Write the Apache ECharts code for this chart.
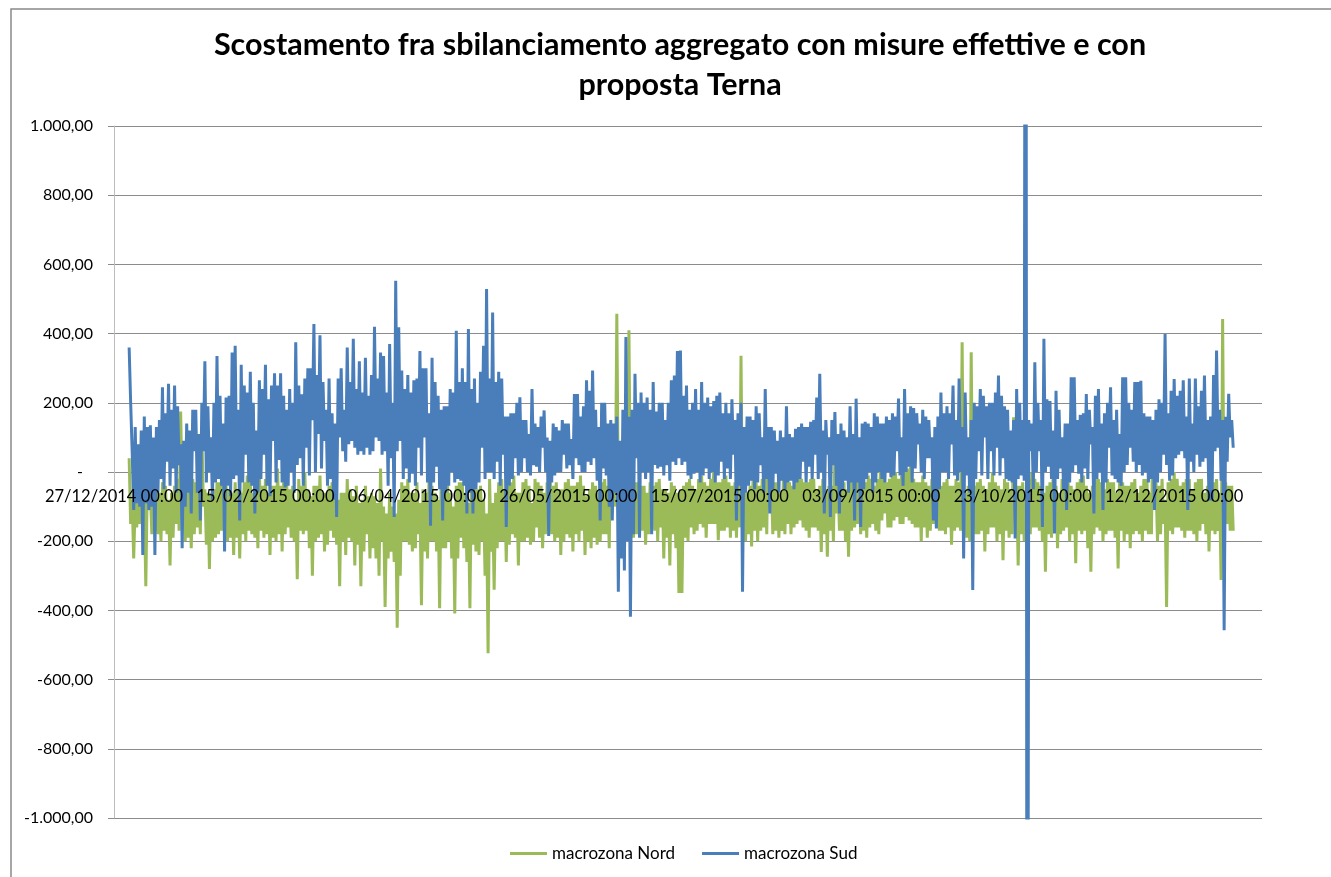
<!DOCTYPE html>
<html>
<head>
<meta charset="utf-8">
<title>Scostamento sbilanciamento aggregato</title>
<script src="https://cdn.jsdelivr.net/npm/echarts@6/dist/echarts.min.js"></script>
<style>
  html, body { margin: 0; padding: 0; background: #fff; }
  #chart { width: 1331px; height: 877px; }
</style>
</head>
<body>
<div id="chart"></div>
<script>
// Chart text
const titleLines = [
    'Scostamento fra sbilanciamento aggregato con misure effettive e con',
    'proposta Terna'
];
const seriesNames = ['macrozona Nord', 'macrozona Sud'];

// x axis: dates counted in days from the first label, one label every 50 days
const axisStartDate = [2014, 12, 27];
const firstReadingDate = [2015, 1, 1];
const axisDays = 379;
const labelStepDays = 50;

// y axis
const yMin = -1000, yMax = 1000, yStep = 200;

// Two readings per day (01/01/2015 .. 31/12/2015):
// *A is one extreme of the day, *B the other one.
const nordA = [
    40, -250, -90, -150, -40, -330, -110, -60, -170, -60,
    -200, -30, -180, -270, -60, -150, -20, 175, -200, -50,
    -220, -20, -160, -40, 120, -210, -280, -60, -190, -30,
    -170, -40, -200, -50, -240, -30, -250, -60, -200, -10,
    -180, -60, -220, 0, -190, -20, -240, -40, -200, 10,
    -230, -30, -160, -50, -200, -310, -20, -180, 0, -220,
    -300, -40, -190, -10, -230, -60, -170, -30, -210, -330,
    -60, -240, -20, -200, -270, -40, -330, -80, -180, -250,
    -60, -250, -300, 10, -390, -120, -60, -100, -450, -300,
    -30, -200, -20, -230, -60, -180, -385, -50, -250, -20,
    -200, -60, -394, -30, -220, 0, -250, -409, -40, -190,
    -30, -260, -394, -20, -230, -50, -200, -300, -524, -20,
    -340, -60, -200, -20, -260, -40, -180, -10, -270, -60,
    -200, -20, -210, -90, -160, -30, -220, -60, -170, 10,
    -200, -30, -240, -50, -180, -20, -230, -40, -200, -10,
    -240, -70, -220, -30, -210, -60, -180, -20, -220, 120,
    -100, 457, -60, -250, -60, 410, -190, -30, -180, -40,
    -210, -60, -160, -40, -200, -20, -250, -50, -270, -30,
    -220, -350,
    -350, -40, -200, -20, -180, -50, -150, -10, -190, -40,
    -150, 10, -197, -30, -170, -10, -190, -40, -190, -20,
    336, -200, -60, -215, -10, -200, -40, -160, -20, 125,
    -180, -30, -190, -60, -180, 0, -180, -40, -150, 10,
    -160, -30, -190, -20, -160, -50, -231, -20, -245, -40,
    -200, 53, -170, -30, -200, -245, -20, -160, 0, -180,
    -40, -190, -10, -150, -40, -180, 0, -120, -30, -160,
    10, -130, -20, -150, 30, -140, 20, -160, -30, -200,
    -10, -190, -40, -150, 10, -170, -40, -180, -20, -210,
    -40, -160, -30,
    375, -60, -200, 346, -40, -180, -20, -230, -50, -160,
    0, -200, -40, -255, -20, -190, -50, 158, -270, -40,
    -200, -60, -180, 0, -160, -30, -200, -288, -40, -190,
    -20, -220, -60, -170, 10, -200, -40, -264, -30, -180,
    -10, -220, -288, -40, -160, -20, -200, -50, -170, -30,
    -190, -279, 0, -200, -40, -220, -30, -170, -60, -200,
    -20, -180, -60, 149, -200, -40, -150, -390, -30, -180,
    0, -160, -40, -190, -20, -170, -50, -200, -20, -150,
    -60, -230, -40, -180, -20, -312, 442, -150, -40, -170
];
const nordB = [
    -150, -80, -160, -50, -170, -90, -30, -180, -50, -180,
    -60, -170, -40, -80, -190, -40, -170, -70, -40, -190,
    -40, -180, -30, -180, -100, -50, -60, -200, -50, -180,
    -30, -180, -40, -190, -60, -190, -50, -180, -30, -170,
    -30, -190, -50, -170, -40, -180, -60, -190, -40, -180,
    -40, -180, -30, -190, -40, -80, -170, -40, -170, -50,
    -70, -200, -40, -180, -60, -210, -40, -190, -50, -80,
    -200, -60, -190, -50, -70, -210, -90, -230, -40, -70,
    -220, -70, -90, -200, -100, -250, -230, -260, -120, -80,
    -200, -40, -210, -60, -220, -30, -90, -230, -60, -200,
    -40, -230, -80, -220, -40, -200, -60, -100, -250, -30,
    -220, -60, -90, -210, -40, -240, -40, -80, -120, -230,
    -90, -220, -30, -200, -50, -210, -30, -190, -60, -200,
    -30, -190, -40, -200, -20, -190, -40, -180, -30, -180,
    -40, -190, -50, -200, -30, -190, -40, -180, -30, -170,
    -40, -200, -50, -190, -40, -200, -30, -180, -40, -120,
    60, -80, -190, -40, 80, -100, -40, -180, -30, -170,
    -40, -180, -30, -170, -30, -160, -50, -190, -60, -180,
    -40, -60,
    -50, -190, -30, -160, -40, -170, -20, -160, -30, -150,
    -20, -150, -30, -170, -20, -160, -30, -170, -30, -160,
    -150, -30, -180, -40, -170, -30, -170, -20, -180, -60,
    -20, -170, -30, -170, -20, -150, -30, -160, -20, -140,
    -20, -170, -30, -160, -20, -170, -40, -180, -50, -170,
    -40, -120, -20, -170, -30, -50, -170, -20, -150, -20,
    -170, -30, -160, -20, -170, -20, -140, -10, -160, -20,
    -140, 0, -150, -10, -130, 10, -150, -20, -160, -30,
    -160, -30, -170, -20, -160, -30, -170, -30, -160, -40,
    -170, -20, -170,
    -160, -190, -40, -150, -180, -30, -170, -40, -180, -30,
    -160, -30, -180, -50, -170, -30, -180, -60, -40, -180,
    -30, -180, -20, -160, -20, -170, -40, -60, -180, -30,
    -170, -40, -180, -20, -160, -30, -180, -50, -170, -20,
    -170, -40, -60, -180, -20, -170, -30, -180, -20, -170,
    -30, -60, -170, -30, -180, -40, -180, -20, -180, -40,
    -170, -20, -180, -60, -30, -180, -20, -80, -170, -20,
    -160, -20, -170, -30, -170, -20, -180, -30, -170, -20,
    -180, -40, -170, -30, -170, -60, -140, -30, -170, -40
];

const sudA = [
    360, 60, 130, -100, -240, 160, -110, 135, -240, 130,
    -20, 245, 30, 255, 10, 250, 20, -220, 90, -60,
    -120, 60, 180, -140, 60, 320, 0, 100, -30, 335,
    -40, -230, 215, -70, 345, 365, -140, 310, 50, -30,
    290, -120, 120, 265, 50, 310, -70, 90, 285, 35,
    285, -45, 180, 0, -60, 375, 40, 225, 70, 300,
    150, 428, 110, 395, 90, 180, 270, -80, -130, 100,
    300, 180, 360, 90, 385, 50, 320, 50, 330, 50,
    280, 420, 90, 345, 335, -40, 370, -130, 553, 418,
    293, 10, 280, -5, 265, 70, 350, 100, 300, -155,
    330, 15, 220, -140, 190, 190, 0, 230, 408, -25,
    300, -120, 413, -120, 270, 200, 70, 365, 529, 0,
    461, 30, 290, 50, -159, 160, 170, 40, 200, 216,
    40, 150, 110, 240, 15, 130, 70, 178, -185, 90,
    140, 0, 120, 50, 140, 20, 95, 225, 225, 0,
    190, 265, 235, 293, -25, -140, 200, 200, -100, -140,
    140, -346, 90, -285, 390, -418, -180, 284, -190, 0,
    200, 215, -180, 260, 175, 15, 200, 150, -25, 265,
    279, 350,
    351, 30, 250, 180, -5, 240, -30, 260, 10, 215,
    0, 205, 220, 30, 170, 10, 170, 50, -140, 170,
    -346, 130, 160, -25, 150, 190, 20, 100, 240, -120,
    130, -5, 90, -25, 100, 190, -25, 100, 125, 130,
    30, 130, 15, 145, 50, 215, 284, -120, 50, -130,
    20, 173, -120, 140, -25, 100, 190, -140, 212, -159,
    140, 145, 0, -60, 170, 0, 140, 140, 160, -15,
    170, 60, 212, 100, 240, 15, 190, 185, 80, 0,
    180, 40, 40, -140, -163, 160, 230, 0, 190, 80,
    250, -25, 270,
    -250, 230, 100, -341, 200, 60, 240, 100, 190, 60,
    200, 70, 279, 40, 190, -25, 120, -192, 240, 200,
    -25, 3000, 60, 140, 317, 60, -159, 385, 15, 205,
    -178, 235, 10, 100, -110, 140, 274, 274, -5, 165,
    10, 225, 80, -120, 220, 240, -110, 170, 70, 245,
    -20, 180, 110, 274, 274, 70, 30, 260, 260, 264,
    0, 160, 160, -110, 180, 210, 50, 399, -25, 235,
    269, 50, 235, 265, -110, 270, 140, 270, 15, 235,
    279, -82, -82, 280, 351, -25, -457, 160, 226, 70
];
const sudB = [
    200, -110, -90, 80, 120, -90, 130, -100, 100, -60,
    150, -50, 170, -40, 180, -60, 190, 80, -100, 140,
    120, 180, -60, 110, 200, -30, 190, -80, 200, -20,
    220, 140, -40, 220, -20, -10, 180, -30, 250, 230,
    -40, 200, -60, -20, 240, -40, 210, 250, -30, 250,
    -30, 220, -40, 240, 200, 20, 250, -40, 270, -10,
    300, 0, 280, 10, 260, -40, -20, 170, 140, 270,
    60, 30, 80, 260, 70, 240, 60, 230, 70, 220,
    60, 100, 270, 50, 60, 230, 40, 200, 60, 90,
    -20, 240, -30, 230, -40, 270, -10, 300, -30, 170,
    -30, 260, -50, 180, -60, -40, 240, -30, -20, 260,
    -40, 260, -60, 240, -50, -30, 290, -20, 0, 270,
    -20, 260, -40, 270, 160, -40, -20, 170, -10, 0,
    150, 0, -10, 20, 140, 0, 160, 0, 100, -30,
    -10, 130, 0, 150, 10, 140, -20, 40, 20, 160,
    0, 30, 20, 40, 180, 130, 10, -10, 140, 150,
    -60, 160, -250, 180, -200, 160, 180, 40, 200, 230,
    -20, 0, 180, 20, 10, 200, -10, 20, 200, 30,
    20, 40,
    20, 220, -10, -20, 200, 0, 180, -10, 200, -20,
    190, -30, -10, 230, -20, 200, -20, 210, 150, -40,
    200, -60, -40, 160, -50, -30, 170, -60, -20, 130,
    -50, 120, -60, 120, -50, -30, 110, -50, -30, -20,
    140, -30, 130, -20, 150, -20, 0, 120, 150, 100,
    150, -40, 110, -50, 120, -60, -30, 110, -30, 100,
    -50, -20, 140, 130, -30, 160, -20, -30, 0, 150,
    -10, 160, -10, -40, 0, 170, -30, 10, 170, 140,
    -20, 160, 150, 100, 130, -50, 0, 170, -20, 170,
    -10, 150, 0,
    130, -10, -60, 150, -20, 190, -10, 220, -20, 200,
    -10, 230, -10, 220, -20, 180, -30, 150, -20, -10,
    150, -3000, 150, -50, 0, 200, 150, 0, 210, -20,
    120, -20, 180, -50, 140, -30, 0, 20, 150, -30,
    170, -20, 180, 130, -20, 0, 140, -30, 200, -10,
    150, -30, -40, 0, 20, 200, 180, 0, 20, -10,
    170, -30, -20, 150, -30, 0, 200, 20, 170, -10,
    40, 220, 60, 40, 160, 30, 0, 50, 190, 30,
    40, 150, 160, 60, 70, 180, 150, 30, 100, 150
];

const colors = ['#9BBB59', '#4A7EBB'];
const font = 'Lato';

const DAY = 86400000;
const axisStart = Date.UTC(axisStartDate[0], axisStartDate[1] - 1, axisStartDate[2]);
const firstOffset = Math.round((Date.UTC(firstReadingDate[0], firstReadingDate[1] - 1, firstReadingDate[2]) - axisStart) / DAY);

const pad = n => (n < 10 ? '0' : '') + n;
function dayLabel(d) {
    const t = new Date(axisStart + Math.round(d) * DAY);
    return pad(t.getUTCDate()) + '/' + pad(t.getUTCMonth() + 1) + '/' + t.getUTCFullYear() + ' 00:00';
}
function itNumber(v) {
    if (v === 0) return '{z|-}';
    const parts = Math.abs(v).toFixed(2).split('.');
    const intPart = parts[0].replace(/\B(?=(\d{3})+(?!\d))/g, '.');
    return (v < 0 ? '-' : '') + intPart + ',' + parts[1];
}
// each day: the higher reading in the first half-day slot, the lower one in the second
function toPoints(a, b) {
    const pts = [];
    a.forEach((v, i) => {
        const d = firstOffset + i;
        pts.push([d, Math.max(v, b[i])]);
        pts.push([d + 0.5, Math.min(v, b[i])]);
    });
    return pts;
}

const chart = echarts.init(document.getElementById('chart'));

const gridTop = 126, gridBottom = 59, chartH = 877;
const plotH = chartH - gridTop - gridBottom;
const zeroOffset = -plotH * (0 - yMin) / (yMax - yMin);

chart.setOption({
    animation: false,
    backgroundColor: '#fff',
    graphic: [
        {
            type: 'rect', silent: true, z: -10,
            shape: { x: 11, y: 9, width: 1400, height: 1000 },
            style: { fill: 'none', stroke: '#898989', lineWidth: 1.5 }
        },
        {
            type: 'text', silent: true,
            style: { text: titleLines[0], x: 680, y: 45, textAlign: 'center', textVerticalAlign: 'middle',
                font: 'bold 30.5px ' + font, fill: '#000' }
        },
        {
            type: 'text', silent: true,
            style: { text: titleLines[1], x: 680, y: 85, textAlign: 'center', textVerticalAlign: 'middle',
                font: 'bold 30.5px ' + font, fill: '#000' }
        }
    ],
    grid: { left: 114, right: 69, top: gridTop, bottom: gridBottom },
    legend: {
        data: seriesNames,
        left: 510,
        top: 845,
        padding: 0,
        icon: 'rect',
        itemWidth: 37,
        itemHeight: 3,
        itemGap: 27,
        textStyle: { fontFamily: font, fontSize: 17, color: '#000' }
    },
    xAxis: {
        type: 'value',
        min: 0,
        max: axisDays,
        interval: labelStepDays,
        position: 'bottom',
        offset: zeroOffset,
        z: 5,
        axisLine: { show: false, onZero: false },
        axisTick: { show: false },
        splitLine: { show: false },
        axisLabel: {
            margin: 16,
            fontFamily: font,
            fontSize: 16.5,
            color: '#000',
            showMaxLabel: false,
            formatter: dayLabel
        }
    },
    yAxis: {
        type: 'value',
        min: yMin,
        max: yMax,
        interval: yStep,
        axisLine: { show: true, lineStyle: { color: '#bdbdbd', width: 1 } },
        axisTick: { show: true, length: 6, lineStyle: { color: '#8c8c8c' } },
        splitLine: { show: true, lineStyle: { color: '#8c8c8c', width: 1 } },
        axisLabel: {
            margin: 21,
            fontFamily: font,
            fontSize: 16,
            color: '#000',
            formatter: itNumber,
            rich: { z: { fontFamily: font, fontSize: 16, color: '#000', padding: [0, 10, 0, 0] } }
        }
    },
    series: [
        {
            name: seriesNames[0],
            type: 'line',
            data: toPoints(nordA, nordB),
            symbol: 'none',
            color: colors[0],
            lineStyle: { width: 3, color: colors[0] },
            clip: true
        },
        {
            name: seriesNames[1],
            type: 'line',
            data: toPoints(sudA, sudB),
            symbol: 'none',
            color: colors[1],
            lineStyle: { width: 3, color: colors[1] },
            clip: true
        }
    ]
});
</script>
</body>
</html>
